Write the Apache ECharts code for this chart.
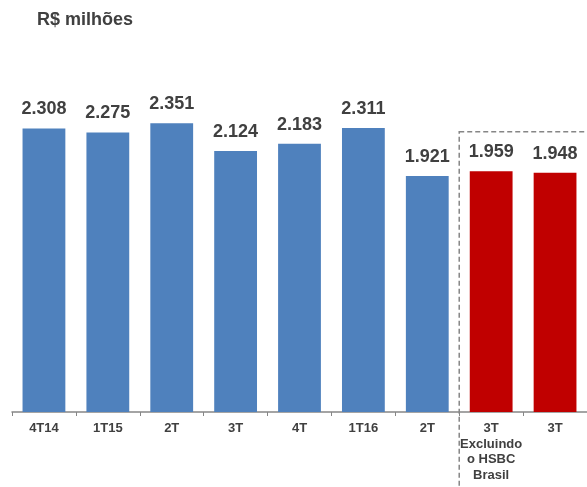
<!DOCTYPE html>
<html><head><meta charset="utf-8">
<script src="https://cdn.jsdelivr.net/npm/echarts@6/dist/echarts.min.js"></script>
<style>html,body{margin:0;padding:0;background:#fff}#c{width:587px;height:487px}</style>
</head><body><div id="c"></div>
<script>
const categories = ['4T14','1T15','2T','3T','4T','1T16','2T','3T\nExcluindo\no HSBC\nBrasil','3T'];
const values = [2308, 2275, 2351, 2124, 2183, 2311, 1921, 1959, 1948];
const barColors = ['#4F81BD','#4F81BD','#4F81BD','#4F81BD','#4F81BD','#4F81BD','#4F81BD','#C00000','#C00000'];
const titleText = 'R$ milhões';
const boxTopValue = 2281;

const chart = echarts.init(document.getElementById('c'), null, {renderer:'canvas'});
const font = '"Liberation Sans", Arial, sans-serif';
chart.setOption({
  animation:false,
  title:{text:titleText,left:32,top:6,textStyle:{fontFamily:font,fontSize:18,fontWeight:'bold',color:'#404040'}},
  grid:{left:12,top:68,height:344,width:580,containLabel:false},
  xAxis:{type:'category',data:categories,
    axisLine:{lineStyle:{color:'#868686',width:1.5}},
    axisTick:{show:true,length:4,lineStyle:{color:'#868686'}},
    axisLabel:{fontFamily:font,fontSize:13,fontWeight:'bold',color:'#404040',margin:9,lineHeight:15.5,interval:0}},
  yAxis:{type:'value',min:0,max:2800,show:false,splitLine:{show:false}},
  series:[{type:'bar',barCategoryGap:'33%',
    data:values.map((v,i)=>({value:v,itemStyle:{color:barColors[i]}})),
    label:{show:true,position:'top',distance:10,fontFamily:font,fontSize:18,fontWeight:'bold',color:'#404040',
      formatter:p=>String(p.value).replace(/\B(?=(\d{3})+(?!\d))/g,'.')}}]
});
const px6 = chart.convertToPixel({xAxisIndex:0}, 6);
const px7 = chart.convertToPixel({xAxisIndex:0}, 7);
const boxLeft = (px6+px7)/2;
const boxTop = chart.convertToPixel({yAxisIndex:0}, boxTopValue);
chart.setOption({graphic:[{type:'rect',shape:{x:boxLeft,y:boxTop,width:700-boxLeft,height:600-boxTop},
  style:{fill:'none',stroke:'#868686',lineWidth:1.5,lineDash:[5,3]},silent:true}]});
</script></body></html>
